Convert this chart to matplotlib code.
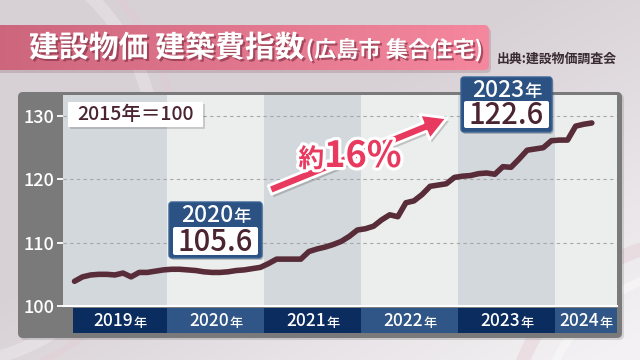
import matplotlib
matplotlib.use('Agg')
import matplotlib.pyplot as plt
import numpy as np
from matplotlib.patches import FancyBboxPatch, FancyArrow, Circle
import matplotlib.patheffects as pe

plt.rcParams['font.family'] = ['Noto Sans CJK JP', 'DejaVu Sans']

# ---------------- data (monthly index, 2015 = 100, Hiroshima apartments) -------------
vals_2019 = [103.9, 104.6, 104.9, 105.0, 105.0, 104.9, 105.2, 104.6, 105.3, 105.3, 105.5, 105.7]
vals_2020 = [105.8, 105.8, 105.7, 105.6, 105.4, 105.3, 105.3, 105.4, 105.6, 105.7, 105.9, 106.1]
vals_2021 = [106.7, 107.4, 107.4, 107.4, 107.4, 108.6, 109.0, 109.3, 109.7, 110.2, 111.0, 112.0]
vals_2022 = [112.2, 112.6, 113.6, 114.4, 114.1, 116.3, 116.6, 117.6, 118.9, 119.1, 119.3, 120.3]
vals_2023 = [120.5, 120.6, 120.9, 121.0, 120.8, 122.0, 121.9, 123.2, 124.6, 124.8, 125.0, 126.1]
vals_2024 = [126.2, 126.2, 128.4, 128.7, 128.9]
year_labels = ['2019', '2020', '2021', '2022', '2023', '2024']
yticks = [100, 110, 120, 130]
badge_years = ['2020', '2023']
badge_values = [105.6, 122.6]
base_label = '2015年＝100'
title_main = '建設物価 建築費指数'
title_sub = '(広島市 集合住宅)'
source = '出典:建設物価調査会'
change_label = ('約', '16%')

values = vals_2019 + vals_2020 + vals_2021 + vals_2022 + vals_2023 + vals_2024
months = np.arange(len(values))

W, H = 640, 360
fig = plt.figure(figsize=(6.4, 3.6), dpi=100)

# ---------------- background ----------------
bg = fig.add_axes([0, 0, 1, 1], zorder=0)
bg.set_xlim(0, W); bg.set_ylim(H, 0); bg.axis('off')
gx = np.linspace(0, 1, 320); gy = np.linspace(0, 1, 180)
X, Y = np.meshgrid(gx, gy)
t = np.clip(0.9 * X + 0.9 * Y - 0.75, 0, 1)
c0 = np.array([0.846, 0.818, 0.836]); c1 = np.array([0.955, 0.948, 0.955])
img = c0[None, None, :] * (1 - t[..., None]) + c1[None, None, :] * t[..., None]
bg.imshow(img, extent=(0, W, H, 0), aspect='auto', zorder=0)
bg.add_patch(Circle((-60, 150), 215, fill=False, ec='white', lw=9, alpha=0.25, zorder=1))
bg.add_patch(Circle((-60, 150), 235, fill=False, ec='#e8c8d0', lw=5, alpha=0.25, zorder=1))
bg.add_patch(Circle((700, 430), 190, fill=False, ec='#e2c4cc', lw=10, alpha=0.35, zorder=1))
bg.add_patch(Circle((700, 430), 160, fill=False, ec='white', lw=6, alpha=0.4, zorder=1))
# panel frame with shadow
bg.add_patch(FancyBboxPatch((20, 94), 604, 246, boxstyle='round,pad=0,rounding_size=5',
                            fc='#000000', alpha=0.12, ec='none', zorder=2))
bg.add_patch(FancyBboxPatch((18, 92), 604, 246, boxstyle='round,pad=0,rounding_size=5',
                            fc='#7a7a7a', ec='none', zorder=3))

# ---------------- main plot ----------------
px_per_month = 8.083
x0_px = 74.5
L, R, T, B = 63, 617, 95, 306
xl = ((L - x0_px) / px_per_month, (R - x0_px) / px_per_month)
ax = fig.add_axes([L / W, 1 - B / H, (R - L) / W, (B - T) / H], zorder=5)
ax.set_xlim(*xl)
ax.set_ylim(100, 100 + (B - T) / 6.333)
ax.set_facecolor('#eceeed')
for i in range(len(year_labels)):
    a = -0.5 + 12 * i if i > 0 else xl[0]
    b = 11.5 + 12 * i if i < len(year_labels) - 1 else xl[1]
    ax.axvspan(a, b, color='#d3d8dc' if i % 2 == 0 else '#eceeed', lw=0, zorder=0)
for v in yticks[1:]:
    ax.axhline(v, color='#a6a6a6', lw=0.8, dashes=(3, 3), zorder=1)
ax.plot(months, values, color='#582c38', lw=4.0, solid_capstyle='round',
        solid_joinstyle='round', zorder=4)
ax.axhline(100, color='white', lw=1.5, zorder=5, clip_on=False)
ax.set_xticks([])
ax.set_yticks(yticks)
ax.set_yticklabels([str(v) for v in yticks], fontweight='medium')
ax.tick_params(axis='y', colors='white', labelcolor='white', length=4.5, width=1.3,
               pad=1.5, labelsize=13)
for s in ax.spines.values():
    s.set_visible(False)

# x band
bax = fig.add_axes([L / W, 1 - 333 / H, (R - L) / W, (333 - 307.5) / H], zorder=5)
bax.set_xlim(*xl); bax.set_ylim(0, 1); bax.axis('off')
band_left = (73 - x0_px) / px_per_month
centers = []
for i in range(len(year_labels)):
    a = -0.5 + 12 * i if i > 0 else band_left
    b = 11.5 + 12 * i if i < len(year_labels) - 1 else xl[1]
    bax.axvspan(a, b, color='#0b2c5e' if i % 2 == 0 else '#2f5686', lw=0)
    centers.append((a + b) / 2)

# ---------------- foreground overlay ----------------
fg = fig.add_axes([0, 0, 1, 1], zorder=10)
fg.set_xlim(0, W); fg.set_ylim(H, 0); fg.axis('off'); fg.patch.set_alpha(0)
renderer = fig.canvas.get_renderer()


def rich(x, y, parts, ha='center', **common):
    texts = []
    for s, size, kw in parts:
        opts = dict(common); opts.update(kw)
        texts.append(fg.text(0, y, s, fontsize=size, ha='left', va='baseline', **opts))
    widths = [tt.get_window_extent(renderer).width for tt in texts]
    cur = x - sum(widths) / 2 if ha == 'center' else x
    for tt, w in zip(texts, widths):
        tt.set_x(cur); cur += w
    return texts


# year labels in band
for lab, c in zip(year_labels, centers):
    xd = bax.transData.transform((c, 0.5))[0]
    rich(xd, 326.5, [(lab, 12.5, {}), ('年', 9.5, {})], color='white', fontweight='medium')

# title banner
fg.add_patch(FancyBboxPatch((-10, 28), 501, 45, boxstyle='round,pad=0,rounding_size=5',
                            fc='#6a2a3a', alpha=0.18, ec='none'))
banner = FancyBboxPatch((-10, 25), 499, 45, boxstyle='round,pad=0,rounding_size=5',
                        fc='none', ec='none')
fg.add_patch(banner)
grad = np.linspace(0, 1, 256)[None, :, None]
ca = np.array([0.80, 0.40, 0.49]); cb = np.array([0.96, 0.53, 0.62])
gim = fg.imshow(ca * (1 - grad) + cb * grad, extent=(-10, 489, 70, 25), aspect='auto', zorder=2)
gim.set_clip_path(banner)
fg.set_xlim(0, W); fg.set_ylim(H, 0)
t1 = fg.text(29, 57, title_main, fontsize=21.5, fontweight='bold', color='white',
             va='baseline', ha='left', zorder=3)
w1 = t1.get_window_extent(renderer).width
t2 = fg.text(29 + w1 + 1, 57, title_sub, fontsize=16, fontweight='bold', color='white',
             va='baseline', ha='left', zorder=3)
for tt in (t1, t2):
    tt.set_path_effects([pe.SimplePatchShadow(offset=(1.5, -1.5), shadow_rgbFace='#8a3348', alpha=0.7),
                         pe.Normal()])
fg.text(617, 63, source, fontsize=9.3, fontweight='bold', color='#3a2a32', ha='right',
        va='baseline')

# base label box
fg.add_patch(FancyBboxPatch((70, 104), 135, 25, boxstyle='round,pad=0,rounding_size=1',
                            fc='#000000', alpha=0.15, ec='none'))
fg.add_patch(FancyBboxPatch((68, 102), 135, 25, boxstyle='round,pad=0,rounding_size=1',
                            fc='white', ec='none'))
fg.text(135.5, 115, base_label, fontsize=14, color='#4a2430', ha='center', va='center',
        fontweight='medium')

# arrow
fg.add_patch(FancyArrow(272, 193, 177, -72, width=9, head_width=27, head_length=24,
                        length_includes_head=True, fc='#000000', ec='none', alpha=0.18))
fg.add_patch(FancyArrow(270, 190, 177, -72, width=9, head_width=27, head_length=24,
                        length_includes_head=True, fc='#e8395f', ec='white', lw=2,
                        joinstyle='round'))
for tt in rich(350, 167, [(change_label[0], 18.5, {}), (change_label[1], 26, {})],
               color='#e8395f', fontweight='bold'):
    tt.set_path_effects([pe.withStroke(linewidth=2, foreground='#8a8a8a', alpha=0.35),
                         pe.Stroke(linewidth=4.5, foreground='white'), pe.Normal()])

# badges
badge_boxes = [((169, 202, 93, 56), (173, 227, 85, 28)),
               ((461, 77, 91, 55), (464, 101, 85, 27))]
for yr, v, (outer, inner) in zip(badge_years, badge_values, badge_boxes):
    ox, oy, ow, oh = outer
    ix, iy, iw, ih = inner
    fg.add_patch(FancyBboxPatch((ox + 1.5, oy + 2), ow, oh, boxstyle='round,pad=0,rounding_size=3',
                                fc='#000000', alpha=0.2, ec='none'))
    fg.add_patch(FancyBboxPatch((ox, oy), ow, oh, boxstyle='round,pad=0,rounding_size=3',
                                fc='#2b5282', ec='#3a6496', lw=1))
    fg.add_patch(FancyBboxPatch((ix, iy), iw, ih, boxstyle='round,pad=0,rounding_size=2',
                                fc='white', ec='none'))
    cx = ox + ow / 2
    rich(cx, oy + 20, [(yr, 16.5, {}), ('年', 12.5, {})], color='white', fontweight='medium')
    fg.text(cx, iy + ih - 4, f'{v:.1f}', fontsize=21, color='#4a2430', ha='center',
            va='baseline', fontweight='medium')

fig.savefig('out.png', dpi=100)
